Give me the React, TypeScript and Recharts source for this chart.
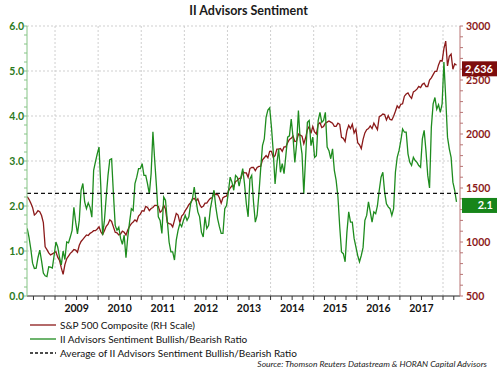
import { LineChart, Line, XAxis, YAxis, CartesianGrid, ReferenceLine, ReferenceDot } from 'recharts';

document.body.style.margin = '0';

// semi-monthly readings, first one is the first half of May 2008
const FIRST_YEAR = 2008;
const FIRST_PERIOD = 8;
const PERIODS_PER_YEAR = 24;

const yearLabels = ['2009', '2010', '2011', '2012', '2013', '2014', '2015', '2016', '2017'];

const sp500 = [
  1420, 1395, 1360, 1320, 1250, 1265, 1290, 1280, 1245, 1180, 955, 930, 900, 880, 890, 900, // 2008
  910, 860, 830, 760, 700, 790, 845, 870, 895, 910, 930, 925, 905, 970, 1005, 1025, 1045, 1065, 1060, 1080, 1090, 1105, 1105, 1120, // 2009
  1140, 1095, 1070, 1105, 1145, 1165, 1205, 1190, 1140, 1090, 1085, 1065, 1075, 1100, 1090, 1065, 1110, 1145, 1170, 1185, 1205, 1190, 1240, 1258, // 2010
  1290, 1285, 1330, 1320, 1290, 1310, 1320, 1340, 1340, 1330, 1275, 1290, 1340, 1305, 1180, 1170, 1165, 1140, 1200, 1265, 1250, 1180, 1240, 1258, // 2011
  1290, 1315, 1345, 1365, 1395, 1405, 1380, 1400, 1350, 1320, 1330, 1360, 1360, 1385, 1405, 1410, 1460, 1440, 1440, 1410, 1360, 1410, 1420, 1426, // 2012
  1470, 1500, 1520, 1515, 1560, 1570, 1590, 1590, 1650, 1640, 1640, 1600, 1680, 1690, 1690, 1660, 1690, 1700, 1700, 1760, 1780, 1800, 1780, 1840, // 2013
  1840, 1785, 1800, 1860, 1860, 1865, 1840, 1880, 1880, 1920, 1950, 1960, 1980, 1930, 1935, 2000, 1990, 1980, 1910, 1965, 2040, 2070, 2005, 2070, // 2014
  2020, 2000, 2090, 2105, 2060, 2070, 2100, 2110, 2120, 2110, 2100, 2070, 2070, 2100, 2090, 1970, 1960, 1930, 2030, 2080, 2050, 2090, 2010, 2045, // 2015
  1920, 1900, 1865, 1950, 2010, 2040, 2050, 2075, 2050, 2100, 2070, 2040, 2160, 2170, 2185, 2180, 2130, 2170, 2135, 2130, 2165, 2210, 2260, 2240, // 2016
  2275, 2280, 2350, 2370, 2380, 2350, 2330, 2390, 2400, 2415, 2440, 2430, 2460, 2470, 2440, 2440, 2500, 2520, 2550, 2580, 2580, 2640, 2680, 2675, // 2017
  2790, 2860, 2630, 2720, 2740, 2600, 2650, 2636, // 2018
];

const bullBearRatio = [
  1.50, 1.31, 1.05, 0.73, 0.61, 0.62, 0.85, 1.02, 0.78, 0.51, 0.45, 0.43, 0.65, 0.64, 0.62, 0.90, // 2008
  1.20, 1.09, 0.86, 0.69, 1.00, 0.81, 1.20, 1.18, 1.31, 1.46, 1.97, 1.64, 1.38, 1.68, 2.35, 2.50, 2.09, 1.94, 2.07, 1.97, 1.75, 2.79, 2.98, 3.16, // 2009
  3.31, 2.42, 1.35, 1.68, 2.20, 2.68, 3.03, 3.05, 2.28, 1.57, 1.46, 1.53, 1.28, 1.15, 1.35, 0.85, 1.31, 1.64, 1.94, 1.90, 2.50, 2.64, 2.83, 2.83, // 2010
  2.94, 2.68, 2.68, 2.49, 2.27, 2.72, 3.65, 3.01, 2.42, 1.76, 1.68, 1.39, 2.20, 2.13, 1.68, 1.20, 0.98, 0.98, 0.80, 1.24, 1.46, 1.61, 1.54, 1.68, // 2011
  1.79, 1.68, 1.76, 2.05, 2.16, 2.42, 2.13, 1.87, 1.76, 1.42, 1.31, 1.76, 1.50, 1.57, 1.94, 2.16, 2.35, 1.98, 1.72, 1.54, 1.39, 1.39, 1.94, 2.01, // 2012
  2.31, 2.64, 2.53, 2.35, 2.68, 2.64, 2.44, 2.64, 2.83, 2.49, 2.05, 1.76, 2.60, 2.68, 2.09, 1.64, 1.79, 2.27, 2.83, 3.34, 3.49, 3.97, 4.13, 4.18, // 2013
  3.75, 3.20, 2.49, 2.94, 3.27, 2.75, 2.94, 2.72, 3.12, 3.53, 3.56, 3.93, 3.53, 2.97, 3.38, 4.12, 3.45, 3.16, 2.27, 3.08, 3.86, 3.90, 3.34, 3.53, // 2014
  3.08, 3.12, 3.90, 4.08, 3.86, 3.90, 4.08, 3.31, 3.23, 3.05, 3.27, 2.79, 2.57, 2.20, 1.54, 0.98, 0.94, 0.76, 1.42, 1.87, 1.64, 1.64, 1.28, 1.09, // 2015
  0.90, 0.76, 0.90, 1.08, 1.68, 1.79, 2.09, 1.87, 1.64, 1.87, 1.83, 2.01, 2.35, 2.64, 2.75, 2.31, 2.05, 1.98, 1.94, 1.79, 1.94, 2.75, 3.08, 3.23, // 2016
  3.45, 3.71, 3.64, 3.64, 3.16, 2.97, 2.90, 3.08, 3.01, 2.97, 2.90, 2.86, 3.49, 3.68, 3.23, 2.68, 2.40, 3.75, 4.27, 4.41, 4.15, 4.25, 4.08, 4.27, // 2017
  5.20, 4.40, 3.53, 3.27, 3.08, 2.53, 2.35, 2.09, // 2018
];

const averageRatio = 2.28;

const data = sp500.map((sp, i) => {
  const p = FIRST_PERIOD + i;
  const t = FIRST_YEAR + Math.floor(p / PERIODS_PER_YEAR) + ((p % PERIODS_PER_YEAR) + 0.5) / PERIODS_PER_YEAR;
  return { t, sp, ratio: bullBearRatio[i] };
});
const last = data[data.length - 1];

const W = 497;
const H = 372;
const X_MIN = 2008.35;
const X_MAX = 2018.394;
const LEFT_W = 27;
const RIGHT_W = 37;
const PLOT_RIGHT = W - RIGHT_W;
const PX_PER_YEAR = (W - LEFT_W - RIGHT_W) / (X_MAX - X_MIN);

const RED = '#8b1a1a';
const GREEN = '#1e8c1e';
const FONT = 'Lato, "Open Sans", sans-serif';

const xTicks: number[] = [];
for (let q = 2008.5; q <= 2018.25; q += 0.25) xTicks.push(q);
const leftTicks: number[] = [];
for (let k = 0; k <= 30; k++) leftTicks.push(Math.round(k * 2) / 10);
const rightTicks: number[] = [];
for (let v = 500; v <= 3000; v += 100) rightTicks.push(v);
const gridYears = [2009, 2010, 2011, 2012, 2013, 2014, 2015, 2016, 2017, 2018];

const XTick = ({ x, y, payload }: any) => {
  const label = String(payload.value);
  if (!yearLabels.includes(label)) return <g />;
  return (
    <text x={x + PX_PER_YEAR / 2} y={y + 10} textAnchor="middle" fontFamily={FONT} fontSize={10.5} fontWeight={700} fill="#111">
      {label}
    </text>
  );
};

const LeftTick = ({ x, y, payload }: any) => {
  const v = payload.value;
  if (Math.abs(v - Math.round(v)) > 1e-6) return <g />;
  return (
    <text x={x} y={y + 4} textAnchor="end" fontFamily={FONT} fontSize={10.5} fontWeight={700} fill="#2c7a1c">
      {v.toFixed(1)}
    </text>
  );
};

const RightTick = ({ x, y, payload }: any) => {
  const v = payload.value;
  if (v % 500 !== 0) return <g />;
  return (
    <text x={x} y={y + 4} textAnchor="start" fontFamily={FONT} fontSize={10.5} fontWeight={700} fill={RED}>
      {v}
    </text>
  );
};

const valueTag = (text: string, bg: string) => (props: any) => (
  <g>
    <rect x={PLOT_RIGHT + 2} y={props.cy - 4} width={W - PLOT_RIGHT - 2} height={15} fill={bg} />
    <text x={W - 4} y={props.cy + 7.5} textAnchor="end" fontFamily={FONT} fontSize={11} fontWeight={700} fill="#fff">
      {text}
    </text>
  </g>
);

const legendItems = [
  { label: 'S&P 500 Composite (RH Scale)', color: RED, dash: undefined },
  { label: 'II Advisors Sentiment Bullish/Bearish Ratio', color: GREEN, dash: undefined },
  { label: 'Average of II Advisors Sentiment Bullish/Bearish Ratio', color: '#111', dash: '3 2' },
];

export default function App() {
  return (
    <div style={{ position: 'relative', width: W, height: H, background: '#fff', fontFamily: FONT }}>
      <div style={{ position: 'absolute', top: 3, left: 0, width: W, textAlign: 'center', fontSize: 12.5, fontWeight: 700, color: '#1a1a1a', lineHeight: '15px' }}>
        II Advisors Sentiment
      </div>

      <LineChart width={W} height={H} data={data} margin={{ top: 26, right: 0, bottom: 56, left: 0 }}>
        <CartesianGrid yAxisId="left" horizontalValues={[1, 2, 3, 4, 5, 6]} verticalValues={gridYears} stroke="#cfcfcf" strokeDasharray="2 2" />
        <XAxis
          type="number"
          dataKey="t"
          domain={[X_MIN, X_MAX]}
          ticks={xTicks}
          interval={0}
          tick={<XTick />}
          tickSize={4}
          height={20}
          axisLine={{ stroke: '#222' }}
          tickLine={{ stroke: '#333' }}
          allowDataOverflow
        />
        <YAxis
          yAxisId="left"
          domain={[0, 6]}
          ticks={leftTicks}
          interval={0}
          tick={<LeftTick />}
          tickSize={3}
          tickMargin={0}
          width={LEFT_W}
          axisLine={{ stroke: '#86c486' }}
          tickLine={{ stroke: '#86c486' }}
        />
        <YAxis
          yAxisId="right"
          orientation="right"
          domain={[500, 3000]}
          ticks={rightTicks}
          interval={0}
          tick={<RightTick />}
          tickSize={3}
          tickMargin={3}
          width={RIGHT_W}
          axisLine={{ stroke: '#b87474' }}
          tickLine={{ stroke: '#b87474' }}
        />
        <Line yAxisId="right" dataKey="sp" stroke={RED} strokeWidth={1.3} dot={false} isAnimationActive={false} />
        <Line yAxisId="left" dataKey="ratio" stroke={GREEN} strokeWidth={1.3} dot={false} isAnimationActive={false} />
        <ReferenceLine yAxisId="left" y={averageRatio} stroke="#111" strokeWidth={1.2} strokeDasharray="4 3" />
        <ReferenceDot yAxisId="right" x={last.t} y={last.sp} r={0} shape={valueTag('2,636', '#7d0c0c')} />
        <ReferenceDot yAxisId="left" x={last.t} y={last.ratio} r={0} shape={valueTag('2.1', '#17851a')} />
      </LineChart>

      {legendItems.map((item, i) => (
        <div key={item.label} style={{ position: 'absolute', left: 30, top: 318 + i * 14, height: 13, display: 'flex', alignItems: 'center', fontSize: 10, color: '#111', whiteSpace: 'nowrap' }}>
          <svg width={26} height={4} style={{ marginRight: 4 }}>
            <line x1={0} x2={26} y1={2} y2={2} stroke={item.color} strokeWidth={1.3} strokeDasharray={item.dash} />
          </svg>
          {item.label}
        </div>
      ))}

      <div style={{ position: 'absolute', right: 10, top: 359, fontSize: 8.5, fontStyle: 'italic', color: '#222', whiteSpace: 'nowrap' }}>
        Source: Thomson Reuters Datastream &amp; HORAN Capital Advisors
      </div>
    </div>
  );
}
